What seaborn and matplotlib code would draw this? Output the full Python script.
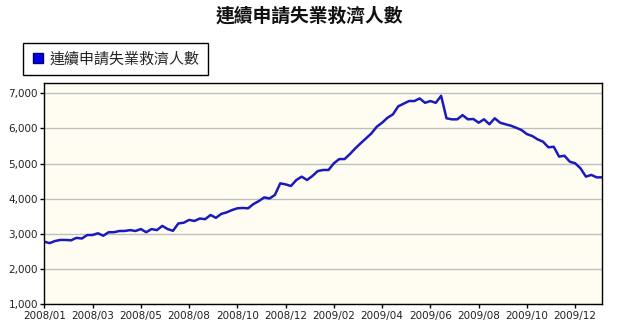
import matplotlib
matplotlib.use("Agg")
import matplotlib.pyplot as plt
from matplotlib.lines import Line2D
import seaborn as sns
import pandas as pd
import numpy as np

title = "連續申請失業救濟人數"
series_name = "連續申請失業救濟人數"
tick_labels = ['2008/01', '2008/03', '2008/05', '2008/08', '2008/10', '2008/12',
               '2009/02', '2009/04', '2009/06', '2009/08', '2009/10', '2009/12']
values = [2780, 2740, 2800, 2830, 2830, 2820, 2890, 2870, 2970, 2970,
          3020, 2950, 3050, 3050, 3085, 3085, 3110, 3085, 3140, 3050,
          3140, 3110, 3230, 3140, 3090, 3300, 3320, 3400, 3370, 3440,
          3420, 3540, 3460, 3570, 3615, 3680, 3730, 3740, 3730, 3850,
          3935, 4040, 4010, 4110, 4440, 4410, 4365, 4535, 4630, 4535,
          4650, 4790, 4820, 4820, 5010, 5130, 5130, 5275, 5435, 5580,
          5720, 5860, 6050, 6165, 6305, 6400, 6630, 6705, 6780, 6780,
          6855, 6730, 6780, 6730, 6930, 6290, 6260, 6260, 6380, 6260,
          6270, 6165, 6260, 6120, 6290, 6165, 6120, 6080, 6020, 5955,
          5840, 5785, 5690, 5625, 5465, 5480, 5200, 5225, 5055, 5010,
          4865, 4630, 4680, 4610, 4610]
tick_step = 9

df = pd.DataFrame({"idx": np.arange(len(values)), "value": values})

sns.set_theme(style="white")
cjk = ['Noto Sans CJK TC', 'DejaVu Sans']

fig = plt.figure(figsize=(6.19, 3.25), dpi=100)
fig.patch.set_facecolor("white")
ax = fig.add_axes([44.3 / 619, 1 - 304.3 / 325, (602 - 44.3) / 619, (304.3 - 83.3) / 325])
ax.set_facecolor("#FFFDF1")

sns.lineplot(data=df, x="idx", y="value", ax=ax, color="#1A1ABE", linewidth=1.8, legend=False)

ax.set_xlim(0, len(values) - 1)
ax.set_ylim(1000, 7285)
ax.set_yticks(np.arange(1000, 7001, 1000))
ax.set_yticklabels([f"{v:,}" for v in range(1000, 7001, 1000)])
ax.set_xticks(np.arange(0, len(tick_labels) * tick_step, tick_step))
ax.set_xticklabels(tick_labels)
ax.set_xlabel("")
ax.set_ylabel("")
ax.grid(axis="y", color="#BEBEBE", linewidth=1)
ax.set_axisbelow(True)
for s in ax.spines.values():
    s.set_color("black")
    s.set_linewidth(1)
ax.tick_params(axis="both", which="both", direction="out", length=3, width=1,
               color="black", labelsize=7.5, labelcolor="#222222", pad=1.5)
ax.tick_params(axis="y", left=True)
ax.tick_params(axis="x", bottom=True)

fig.text(0.5, 1 - 16 / 325, title, ha="center", va="center", fontsize=13.5,
         fontweight="bold", family=cjk, color="#111111")

handle = Line2D([], [], marker="s", linestyle="none", markersize=7,
                markerfacecolor="#0000EE", markeredgecolor="#000066")
leg = fig.legend([handle], [series_name], loc="upper left",
                 bbox_to_anchor=(23 / 619, 1 - 43 / 325), frameon=True,
                 fancybox=False, edgecolor="black", framealpha=1,
                 prop={"family": cjk, "size": 10.8}, handletextpad=0.35,
                 handlelength=0.8, borderpad=0.6, borderaxespad=0)
leg.get_frame().set_linewidth(1)

fig.savefig("out.png", dpi=100)
